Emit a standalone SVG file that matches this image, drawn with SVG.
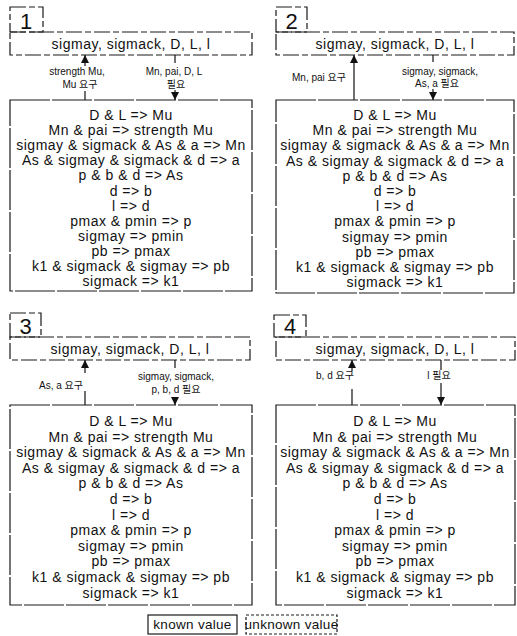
<svg xmlns="http://www.w3.org/2000/svg" width="517" height="636" viewBox="0 0 517 636">
<defs>
<style>
.bg{fill:#fff}
.box{fill:none;stroke:#1a1a1a;stroke-width:1.2;stroke-dasharray:16 3 6 3}
.side{fill:none;stroke:#1a1a1a;stroke-width:1.2;stroke-dasharray:40 2}
.num{font-family:"Liberation Sans",Arial,sans-serif;font-size:22px;fill:#111;text-anchor:middle}
.t{font-family:"Liberation Sans","Noto Sans CJK KR",sans-serif;font-size:14px;letter-spacing:0.5px;fill:#111;text-anchor:middle}
.lb{font-family:"Liberation Sans","Noto Sans CJK KR",sans-serif;font-size:10px;fill:#111;text-anchor:middle}
.c{stroke:#111;stroke-width:1.2;fill:none}
.known{fill:none;stroke:#1a1a1a;stroke-width:1.2}
.unknown{fill:none;stroke:#1a1a1a;stroke-width:1.2;stroke-dasharray:3 2}
</style>
<marker id="ah" viewBox="0 0 8 8" refX="8" refY="4" markerWidth="8" markerHeight="8" markerUnits="userSpaceOnUse" orient="auto">
<path d="M0,0 L8,4 L0,8 z" fill="#111"/>
</marker>
</defs>
<rect class="bg" x="0" y="0" width="517" height="636"/>

<!-- Panel 1 -->
<g id="panel1-number">
<rect class="box" x="10" y="7" width="33" height="25"/>
<text class="num" x="26" y="29">1</text>
</g>
<g id="panel1-known">
<rect class="box" x="10" y="32" width="242" height="23"/>
<text class="t" x="131" y="49">sigmay, sigmack, D, L, l</text>
</g>
<g id="panel1-rules">
<rect class="side" x="10" y="100" width="242" height="191"/>
<text class="t"><tspan x="131" y="120">D &amp; L =&gt; Mu</tspan><tspan x="131" dy="15.1">Mn &amp; pai =&gt; strength Mu</tspan><tspan x="131" dy="15.1">sigmay &amp; sigmack &amp; As &amp; a =&gt; Mn</tspan><tspan x="131" dy="15.1">As &amp; sigmay &amp; sigmack &amp; d =&gt; a</tspan><tspan x="131" dy="15.1">p &amp; b &amp; d =&gt; As</tspan><tspan x="131" dy="15.1">d =&gt; b</tspan><tspan x="131" dy="15.1">l =&gt; d</tspan><tspan x="131" dy="15.1">pmax &amp; pmin =&gt; p</tspan><tspan x="131" dy="15.1">sigmay =&gt; pmin</tspan><tspan x="131" dy="15.1">pb =&gt; pmax</tspan><tspan x="131" dy="15.1">k1 &amp; sigmack &amp; sigmay =&gt; pb</tspan><tspan x="131" dy="15.1">sigmack =&gt; k1</tspan></text>
</g>

<!-- Panel 2 -->
<g id="panel2-number">
<rect class="box" x="276" y="7" width="31" height="25"/>
<text class="num" x="291.5" y="29">2</text>
</g>
<g id="panel2-known">
<rect class="box" x="276" y="32" width="238" height="23"/>
<text class="t" x="395" y="49">sigmay, sigmack, D, L, l</text>
</g>
<g id="panel2-rules">
<rect class="side" x="276" y="100" width="238" height="193"/>
<text class="t"><tspan x="395" y="120">D &amp; L =&gt; Mu</tspan><tspan x="395" dy="15.2">Mn &amp; pai =&gt; strength Mu</tspan><tspan x="395" dy="15.2">sigmay &amp; sigmack &amp; As &amp; a =&gt; Mn</tspan><tspan x="395" dy="15.2">As &amp; sigmay &amp; sigmack &amp; d =&gt; a</tspan><tspan x="395" dy="15.2">p &amp; b &amp; d =&gt; As</tspan><tspan x="395" dy="15.2">d =&gt; b</tspan><tspan x="395" dy="15.2">l =&gt; d</tspan><tspan x="395" dy="15.2">pmax &amp; pmin =&gt; p</tspan><tspan x="395" dy="15.2">sigmay =&gt; pmin</tspan><tspan x="395" dy="15.2">pb =&gt; pmax</tspan><tspan x="395" dy="15.2">k1 &amp; sigmack &amp; sigmay =&gt; pb</tspan><tspan x="395" dy="15.2">sigmack =&gt; k1</tspan></text>
</g>

<!-- Panel 3 -->
<g id="panel3-number">
<rect class="box" x="10" y="313" width="31" height="24"/>
<text class="num" x="25.5" y="334">3</text>
</g>
<g id="panel3-known">
<rect class="box" x="10" y="337" width="240" height="23"/>
<text class="t" x="130" y="354">sigmay, sigmack, D, L, l</text>
</g>
<g id="panel3-rules">
<rect class="side" x="10" y="405" width="242" height="200"/>
<text class="t"><tspan x="131" y="426">D &amp; L =&gt; Mu</tspan><tspan x="131" dy="15.6">Mn &amp; pai =&gt; strength Mu</tspan><tspan x="131" dy="15.6">sigmay &amp; sigmack &amp; As &amp; a =&gt; Mn</tspan><tspan x="131" dy="15.6">As &amp; sigmay &amp; sigmack &amp; d =&gt; a</tspan><tspan x="131" dy="15.6">p &amp; b &amp; d =&gt; As</tspan><tspan x="131" dy="15.6">d =&gt; b</tspan><tspan x="131" dy="15.6">l =&gt; d</tspan><tspan x="131" dy="15.6">pmax &amp; pmin =&gt; p</tspan><tspan x="131" dy="15.6">sigmay =&gt; pmin</tspan><tspan x="131" dy="15.6">pb =&gt; pmax</tspan><tspan x="131" dy="15.6">k1 &amp; sigmack &amp; sigmay =&gt; pb</tspan><tspan x="131" dy="15.6">sigmack =&gt; k1</tspan></text>
</g>

<!-- Panel 4 -->
<g id="panel4-number">
<rect class="box" x="274" y="315" width="32" height="22"/>
<text class="num" x="290" y="334">4</text>
</g>
<g id="panel4-known">
<rect class="box" x="276" y="337" width="239" height="23"/>
<text class="t" x="395" y="354">sigmay, sigmack, D, L, l</text>
</g>
<g id="panel4-rules">
<rect class="side" x="276" y="405" width="239" height="200"/>
<text class="t"><tspan x="395" y="426">D &amp; L =&gt; Mu</tspan><tspan x="395" dy="15.6">Mn &amp; pai =&gt; strength Mu</tspan><tspan x="395" dy="15.6">sigmay &amp; sigmack &amp; As &amp; a =&gt; Mn</tspan><tspan x="395" dy="15.6">As &amp; sigmay &amp; sigmack &amp; d =&gt; a</tspan><tspan x="395" dy="15.6">p &amp; b &amp; d =&gt; As</tspan><tspan x="395" dy="15.6">d =&gt; b</tspan><tspan x="395" dy="15.6">l =&gt; d</tspan><tspan x="395" dy="15.6">pmax &amp; pmin =&gt; p</tspan><tspan x="395" dy="15.6">sigmay =&gt; pmin</tspan><tspan x="395" dy="15.6">pb =&gt; pmax</tspan><tspan x="395" dy="15.6">k1 &amp; sigmack &amp; sigmay =&gt; pb</tspan><tspan x="395" dy="15.6">sigmack =&gt; k1</tspan></text>
</g>

<!-- Connectors -->
<g id="connectors">
<line class="c" x1="85" y1="66" x2="85" y2="55" marker-end="url(#ah)"/>
<line class="c" x1="85" y1="91" x2="85" y2="100"/>
<line class="c" x1="175" y1="55" x2="175" y2="63"/>
<line class="c" x1="175" y1="90" x2="175" y2="100" marker-end="url(#ah)"/>

<line class="c" x1="354" y1="100" x2="354" y2="55" marker-end="url(#ah)"/>
<line class="c" x1="433" y1="55" x2="433" y2="62"/>
<line class="c" x1="433" y1="89" x2="433" y2="100" marker-end="url(#ah)"/>

<line class="c" x1="85" y1="373" x2="85" y2="360" marker-end="url(#ah)"/>
<line class="c" x1="85" y1="391" x2="85" y2="405"/>
<line class="c" x1="175" y1="360" x2="175" y2="368"/>
<line class="c" x1="175" y1="397" x2="175" y2="405" marker-end="url(#ah)"/>

<line class="c" x1="352" y1="371" x2="352" y2="360" marker-end="url(#ah)"/>
<line class="c" x1="352" y1="389" x2="352" y2="405"/>
<line class="c" x1="441" y1="360" x2="441" y2="370"/>
<line class="c" x1="441" y1="383" x2="441" y2="405" marker-end="url(#ah)"/>
</g>

<!-- Connector labels -->
<g id="labels">
<text class="lb" x="77" y="75">strength Mu,</text>
<text class="lb" x="80" y="88">Mu 요구</text>
<text class="lb" x="174" y="75">Mn, pai, D, L</text>
<text class="lb" x="176" y="88">필요</text>

<text class="lb" x="319" y="81">Mn, pai 요구</text>
<text class="lb" x="440" y="75">sigmay, sigmack,</text>
<text class="lb" x="437" y="87">As, a 필요</text>

<text class="lb" x="61" y="389">As, a 요구</text>
<text class="lb" x="176" y="380">sigmay, sigmack,</text>
<text class="lb" x="176" y="393">p, b, d 필요</text>

<text class="lb" x="335" y="379">b, d 요구</text>
<text class="lb" x="439" y="379">l 필요</text>
</g>

<!-- Legend -->
<g id="legend-known">
<rect class="known" x="148" y="615" width="89" height="19"/>
<text class="t" x="192.5" y="629" style="font-size:13.5px;letter-spacing:0.3px">known value</text>
</g>
<g id="legend-unknown">
<rect class="unknown" x="246" y="615" width="91" height="19"/>
<text class="t" x="291.5" y="629" style="font-size:13.5px;letter-spacing:0.3px">unknown value</text>
</g>
</svg>
